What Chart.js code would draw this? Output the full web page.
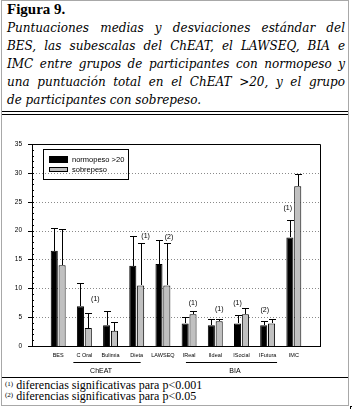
<!DOCTYPE html>
<html><head><meta charset="utf-8">
<script src="https://cdn.jsdelivr.net/npm/chart.js@4/dist/chart.umd.min.js"></script>
<style>
html,body{margin:0;padding:0;background:#fff;width:352px;height:409px;overflow:hidden;position:relative}
.frame{position:absolute;left:1px;top:0;width:346px;height:404px;border:1px solid #a8a8a8;pointer-events:none}
#title{position:absolute;left:7px;top:0;font:bold 15px "Liberation Serif";line-height:18px;color:#000}
.cap{position:absolute;left:7px;font:italic 12px "DejaVu Serif";line-height:18px;color:#000;white-space:nowrap}
.hl{position:absolute;left:2px;width:346px;height:1px;background:#000}
.fn{position:absolute;left:5px;font:12px "Liberation Serif";line-height:11px;color:#000;white-space:nowrap}
.fn sup{font-size:7px;vertical-align:0;position:relative;top:-3px}
#c{position:absolute;left:0;top:115px}
.corner{position:absolute;left:350px;top:406px;width:2px;height:3px;border-top:1px solid #000;border-left:1px solid #000}
</style></head>
<body>
<canvas id="c" width="352" height="262"></canvas>
<div id="title">Figura 9.</div>
<div id="caption"></div>
<div class="hl" style="top:111px"></div>
<div class="hl" style="top:114px"></div>
<div class="hl" style="top:377px"></div>
<div id="foot"></div>
<div class="frame"></div>
<div class="corner"></div>
<script>
const categories = ['BES','C Oral','Bulimia','Dieta','LAWSEQ','IReal','IIdeal','ISocial','IFutura','IMC'];
const seriesNames = ['normopeso >20','sobrepeso'];
const normopeso   = [16.5, 6.9, 3.6, 13.9, 14.2, 3.9, 3.6, 3.9, 3.6, 18.8];
const normopesoSD = [3.9, 4.0, 2.4, 5.2, 4.2, 1.2, 1.0, 1.4, 0.7, 3.0];
const sobrepeso   = [14.0, 3.1, 2.65, 10.5, 10.5, 5.5, 4.3, 5.5, 3.9, 27.7];
const sobrepesoSD = [6.2, 2.6, 1.5, 7.4, 7.4, 0.6, 0.4, 1.1, 0.7, 2.1];
const yTicks = [0, 5, 10, 15, 20, 25, 30, 35];
const notes = ['', '(1)', '', '(1)', '(2)', '(1)', '(1)', '(1)', '(2)', '(1)'];
const noteLevel = [null, 8.1, null, 19.1, 18.9, 7.45, 6.4, 7.45, 6.2, 23.9];
const groupNames = ['ChEAT', 'BIA'];
const captionLines = [
  'Puntuaciones medias y desviaciones estándar del',
  'BES, las subescalas del ChEAT, el LAWSEQ, BIA e',
  'IMC entre grupos de participantes con normopeso y',
  'una puntuación total en el ChEAT >20, y el grupo',
  'de participantes con sobrepeso.'
];
const footMarks = ['(1)', '(2)'];
const footTexts = ['diferencias significativas para p<0.001', 'diferencias significativas para p<0.05'];

// caption (justified lines)
const capBox = document.getElementById('caption');
captionLines.forEach((t, i) => {
  const d = document.createElement('div');
  d.className = 'cap';
  d.style.top = (19 + i * 18) + 'px';
  d.textContent = t;
  capBox.appendChild(d);
  if (i < captionLines.length - 1) {
    const w = d.getBoundingClientRect().width;
    const spaces = (t.match(/ /g) || []).length;
    const target = 338;
    d.style.wordSpacing = ((target - w) / spaces) + 'px';
  }
});
// footnotes
const foot = document.getElementById('foot');
footTexts.forEach((t, i) => {
  const d = document.createElement('div');
  d.className = 'fn';
  d.style.top = (380 + i * 11) + 'px';
  const s = document.createElement('sup');
  s.textContent = footMarks[i];
  d.appendChild(s);
  d.appendChild(document.createTextNode(' ' + t));
  foot.appendChild(d);
});

// style-only positions
const noteShift = [0, 0.42, 0, 0.34, 0.23, 0.15, 0.15, -0.15, -0.11, -0.23];
const groupSpans = [[1.58, 4.15, 2.64], [5.88, 9.36, 7.75]];

const decor = {
  id: 'decor',
  beforeDatasetsDraw(chart) {
    const {ctx, chartArea: a, scales: {y}} = chart;
    ctx.save();
    ctx.strokeStyle = '#8a8a8a';
    ctx.lineWidth = 1;
    ctx.setLineDash([1, 2]);
    yTicks.forEach(v => {
      if (v === 0 || v === 35) return;
      const py = Math.round(y.getPixelForValue(v)) + 0.5;
      ctx.beginPath(); ctx.moveTo(a.left + 1, py); ctx.lineTo(a.right, py); ctx.stroke();
    });
    ctx.setLineDash([]);
    ctx.strokeStyle = '#000';
    for (let v = 0; v <= 35; v++) {
      const py = Math.round(y.getPixelForValue(v)) + 0.5;
      ctx.beginPath();
      if (v % 5 === 0) { ctx.moveTo(a.left - 4, py); ctx.lineTo(a.left + 2, py); }
      else { ctx.moveTo(a.left, py); ctx.lineTo(a.left + 2, py); }
      ctx.stroke();
    }
    ctx.restore();
  },
  afterDatasetsDraw(chart) {
    const {ctx, chartArea: a, scales: {x, y}} = chart;
    ctx.save();
    ctx.strokeStyle = '#000';
    ctx.lineWidth = 1;
    // frame top/right
    ctx.beginPath();
    ctx.moveTo(a.left, Math.round(a.top) + 0.5);
    ctx.lineTo(Math.round(a.right) + 0.5, Math.round(a.top) + 0.5);
    ctx.lineTo(Math.round(a.right) + 0.5, Math.round(a.bottom) + 0.5);
    ctx.stroke();
    // error bars
    const sds = [normopesoSD, sobrepesoSD];
    const vals = [normopeso, sobrepeso];
    [0, 1].forEach(di => {
      const meta = chart.getDatasetMeta(di);
      vals[di].forEach((v, j) => {
        const el = meta.data[j + 1];
        if (!el) return;
        const px = Math.round(el.x) + 0.5;
        const top = Math.round(y.getPixelForValue(v + sds[di][j])) + 0.5;
        ctx.beginPath();
        ctx.moveTo(px, Math.round(el.y));
        ctx.lineTo(px, top);
        ctx.moveTo(px - 3.5, top);
        ctx.lineTo(px + 3.5, top);
        ctx.stroke();
      });
    });
    // significance notes
    ctx.fillStyle = '#000';
    ctx.font = '7px Arial';
    ctx.textAlign = 'center';
    ctx.textBaseline = 'middle';
    notes.forEach((n, j) => {
      if (!n) return;
      ctx.fillText(n, x.getPixelForValue(j + 1 + noteShift[j]), y.getPixelForValue(noteLevel[j]));
    });
    // group labels
    groupNames.forEach((g, k) => {
      const [s, e, c] = groupSpans[k];
      const ly = Math.round(a.bottom) + 16.5;
      ctx.beginPath();
      ctx.moveTo(x.getPixelForValue(s), ly);
      ctx.lineTo(x.getPixelForValue(e), ly);
      ctx.stroke();
      ctx.font = '7px Arial';
      ctx.fillText(g, x.getPixelForValue(c), a.bottom + 24.7);
    });
    // legend
    const lx = Math.round(a.left) + 11, ly = Math.round(a.top) + 5;
    ctx.strokeRect(lx + 0.5, ly + 0.5, 85, 30);
    ctx.fillStyle = '#000';
    ctx.fillRect(lx + 6, ly + 7, 19, 7);
    ctx.fillStyle = '#c0c0c0';
    ctx.fillRect(lx + 6, ly + 18, 19, 5);
    ctx.strokeRect(lx + 6.5, ly + 18.5, 18, 4);
    ctx.fillStyle = '#000';
    ctx.textAlign = 'left';
    ctx.font = '7.5px Arial';
    ctx.fillText(seriesNames[0], lx + 29, ly + 10.5);
    ctx.fillText(seriesNames[1], lx + 29, ly + 20.5);
    ctx.restore();
  }
};

new Chart(document.getElementById('c'), {
  type: 'bar',
  data: {
    labels: ['', ...categories, ''],
    datasets: [
      {label: seriesNames[0], data: [null, ...normopeso, null], backgroundColor: '#000', borderColor: '#000', borderWidth: 1},
      {label: seriesNames[1], data: [null, ...sobrepeso, null], backgroundColor: '#c0c0c0', borderColor: '#000', borderWidth: 1}
    ]
  },
  options: {
    responsive: false, animation: false, devicePixelRatio: 1,
    layout: {padding: {top: 29, right: 32, left: 0, bottom: 0}},
    plugins: {legend: {display: false}, tooltip: {enabled: false}},
    datasets: {bar: {categoryPercentage: 0.6, barPercentage: 0.9}},
    scales: {
      x: {
        offset: false,
        grid: {display: false, drawTicks: false},
        border: {display: true, color: '#000', width: 1},
        ticks: {autoSkip: false, maxRotation: 0, minRotation: 0, padding: 6, color: '#000', font: {family: 'Arial', size: 5.5}},
        afterFit(s) { s.height = 31; }
      },
      y: {
        min: 0, max: 35,
        grid: {display: false, drawTicks: false},
        border: {display: true, color: '#000', width: 1},
        ticks: {stepSize: 5, padding: 10, color: '#000', font: {family: 'Arial', size: 6.5}},
        afterBuildTicks(s) { s.ticks = yTicks.map(v => ({value: v})); },
        afterFit(s) { s.width = 32; }
      }
    }
  },
  plugins: [decor]
});
</script>
</body></html>
